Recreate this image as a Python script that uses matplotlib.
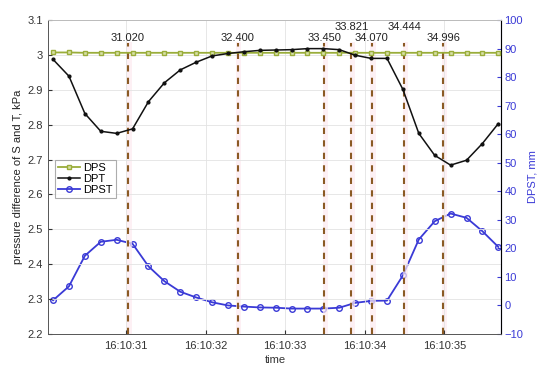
import matplotlib
matplotlib.use("Agg")
import matplotlib.pyplot as plt

plt.rcParams['font.family'] = ['Liberation Sans', 'DejaVu Sans']

# sample times (seconds after 16:10:00)
times = [30.08, 30.28, 30.48, 30.68, 30.88, 31.08, 31.28, 31.48, 31.68, 31.88,
         32.08, 32.28, 32.48, 32.68, 32.88, 33.08, 33.28, 33.48, 33.68, 33.88,
         34.08, 34.28, 34.48, 34.68, 34.88, 35.08, 35.28, 35.48, 35.68]

dps = [3.007, 3.007, 3.006, 3.006, 3.006, 3.006, 3.006, 3.006, 3.006, 3.006,
       3.006, 3.006, 3.006, 3.006, 3.006, 3.006, 3.006, 3.006, 3.006, 3.006,
       3.006, 3.006, 3.006, 3.006, 3.006, 3.006, 3.006, 3.006, 3.006]

dpt = [2.987, 2.939, 2.832, 2.781, 2.775, 2.788, 2.866, 2.920, 2.957, 2.979,
       2.997, 3.004, 3.009, 3.013, 3.014, 3.015, 3.018, 3.018, 3.015, 2.999,
       2.990, 2.990, 2.901, 2.775, 2.712, 2.684, 2.698, 2.746, 2.803]

dpst = [1.8, 6.7, 17.4, 22.3, 23.0, 21.6, 13.7, 8.5, 4.8, 2.8,
        1.1, 0.0, -0.4, -0.7, -0.8, -1.1, -1.1, -1.1, -0.8, 0.9,
        1.6, 1.7, 10.5, 23.1, 29.5, 32.2, 30.7, 26.0, 20.5]

event_times = [31.02, 32.40, 33.49, 33.83, 34.09, 34.50, 34.99]
event_labels = ["31.020", "32.400", "33.450", "33.821", "34.070", "34.444", "34.996"]
event_high = [False, False, False, True, False, True, False]

xticks = [31, 32, 33, 34, 35]
xtick_labels = ["16:10:31", "16:10:32", "16:10:33", "16:10:34", "16:10:35"]
left_ticks = [2.2, 2.3, 2.4, 2.5, 2.6, 2.7, 2.8, 2.9, 3.0, 3.1]
left_tick_labels = ["2.2", "2.3", "2.4", "2.5", "2.6", "2.7", "2.8", "2.9", "3", "3.1"]
right_ticks = [-10, 0, 10, 20, 30, 40, 50, 60, 70, 80, 90, 100]

fig = plt.figure(figsize=(5.5, 3.74), dpi=100)
ax = fig.add_axes([0.0878, 0.107, 0.9118 - 0.0878, 0.9465 - 0.107])
ax2 = ax.twinx()

blue = '#3a3ad6'
olive = '#9aad3a'
brown = '#8b5a24'

ax.set_xlim(30.02, 35.72)
ax.set_ylim(2.2, 3.1)
ax2.set_ylim(-10, 100)

ax.grid(True, color='#e3e3e3', linewidth=0.6)
ax.set_axisbelow(True)

for t in event_times:
    ax.axvspan(t - 0.02, t + 0.05, ymax=0.93, color='#fdeaf0', alpha=0.7, lw=0, zorder=0.5)
    ax.vlines(t, 2.2, 3.035, color=brown, linestyle=(0, (3, 3)), linewidth=1.5, zorder=1)

l1, = ax.plot(times, dps, color=olive, marker='s', markersize=3.5, mfc='#d8e0a8',
              mec=olive, linewidth=1.3, label='DPS', zorder=3)
l2, = ax.plot(times, dpt, color='#111111', marker='.', markersize=4, linewidth=1.1,
              label='DPT', zorder=3)
l3, = ax2.plot(times, dpst, color=blue, marker='o', markersize=4, mfc='none',
               mec=blue, linewidth=1.3, label='DPST', zorder=3)

for t, lab, hi in zip(event_times, event_labels, event_high):
    y = 3.081 if hi else 3.049
    ax.text(t, y, lab, ha='center', va='center', fontsize=8, color='#222222', zorder=4)

ax.set_xticks(xticks)
ax.set_xticklabels(xtick_labels)
ax.set_yticks(left_ticks)
ax.set_yticklabels(left_tick_labels)
ax2.set_yticks(right_ticks)

ax.tick_params(axis='both', direction='in', length=3, labelsize=8, colors='#333333', pad=4)
ax.tick_params(axis='x', pad=5)
ax2.tick_params(axis='y', direction='in', length=3, labelsize=8, colors=blue, pad=2)

for s in ['top', 'left', 'bottom']:
    ax.spines[s].set_color('#555555')
    ax.spines[s].set_linewidth(0.7)
ax.spines['top'].set_color('#bbbbbb')
ax2.spines['right'].set_color('#6f6fe6')
ax2.spines['right'].set_linewidth(0.8)
ax2.spines['left'].set_visible(False)
ax2.spines['top'].set_visible(False)
ax2.spines['bottom'].set_visible(False)

ax.set_xlabel('time', fontsize=8, color='#333333', labelpad=3)
ax.set_ylabel('pressure difference of S and T, kPa', fontsize=8, color='#222222', labelpad=3)
ax2.set_ylabel('DPST, mm', fontsize=8, color=blue, labelpad=3)

leg = ax.legend(handles=[l1, l2, l3], loc='upper left', bbox_to_anchor=(0.015, 0.553),
                fontsize=8, frameon=True, fancybox=False, edgecolor='#999999',
                handlelength=2.0, handletextpad=0.3, borderpad=0.25, labelspacing=0.1,
                borderaxespad=0)
leg.get_frame().set_linewidth(0.8)
leg.set_zorder(10)
ax.set_zorder(ax2.get_zorder() + 1)
ax.patch.set_visible(False)

fig.savefig('out.png', dpi=100)
